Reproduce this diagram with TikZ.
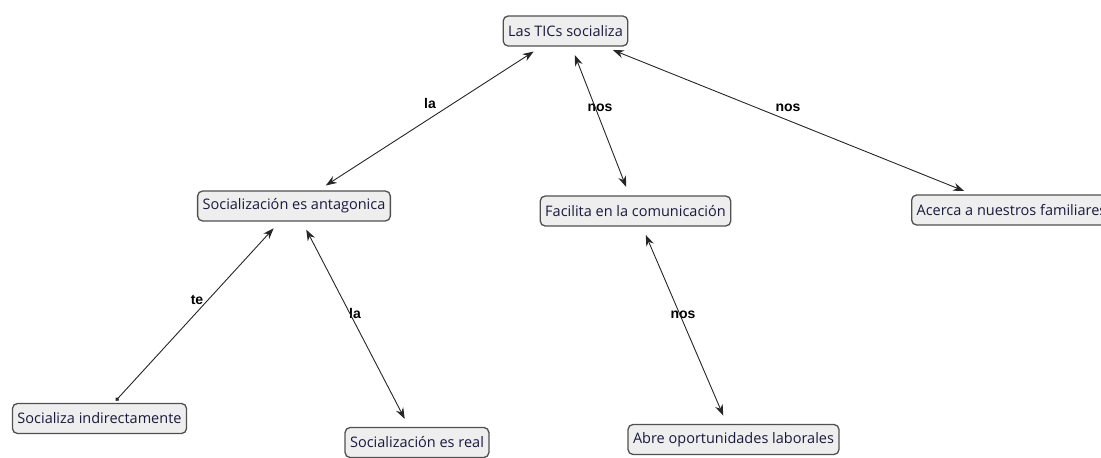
\documentclass[tikz,border=0pt]{standalone}
\usepackage{fontspec}
\setmainfont{Open Sans}
\newfontfamily\lblfont{Liberation Sans}
\usetikzlibrary{arrows.meta}
\definecolor{txt}{RGB}{25,25,60}
\definecolor{boxfill}{RGB}{238,238,238}
\definecolor{boxdraw}{RGB}{80,80,80}
\tikzset{
  concept/.style={draw=boxdraw, line width=1.3pt, rounded corners=5pt, fill=boxfill,
    text=txt, font=\fontsize{14.5}{16}\selectfont, inner xsep=5pt, inner ysep=2pt, minimum height=30pt},
  linkl/.style={font=\lblfont\bfseries\fontsize{14}{16}\selectfont, text=black},
  link/.style={line width=0.9pt, draw=black!85, {Stealth[length=11pt,width=8pt]}-{Stealth[length=11pt,width=8pt]}, shorten <=9pt, shorten >=9pt},
}
\begin{document}
\begin{tikzpicture}[x=1pt,y=-1pt]
\useasboundingbox (0,0) rectangle (1101,458);
\node[concept] (tic) at (565.5,31) {Las TICs socializa};
\node[concept] (ant) at (294,206) {Socialización es antagonica};
\node[concept] (fac) at (635.5,211) {Facilita en la comunicación};
\node[concept, anchor=west] (ace) at (911,210) {Acerca a nuestros familiares};
\node[concept] (ind) at (99.5,418.5) {Socializa indirectamente};
\node[concept] (real) at (417,442.5) {Socialización es real};
\node[concept] (abre) at (733.5,439.5) {Abre oportunidades laborales};

\node[linkl] (l1) at (430,103) {la};
\node[linkl] (l2) at (600,108) {nos};
\node[linkl] (l3) at (788,108) {nos};
\node[linkl] (l4) at (197,300) {te};
\node[linkl] (l5) at (355,313) {la};
\node[linkl] (l6) at (683,315) {nos};

\draw[link] (tic) -- (ant);
\draw[link] (tic) -- (fac);
\draw[link] (tic) -- (ace);
\draw[line width=0.9pt, draw=black!85, {Circle[length=4pt]}-{Stealth[length=11pt,width=8pt]}, shorten <=3pt, shorten >=9pt] (ind) -- (ant);
\draw[link] (ant) -- (real);
\draw[link] (fac) -- (abre);
\end{tikzpicture}
\end{document}
